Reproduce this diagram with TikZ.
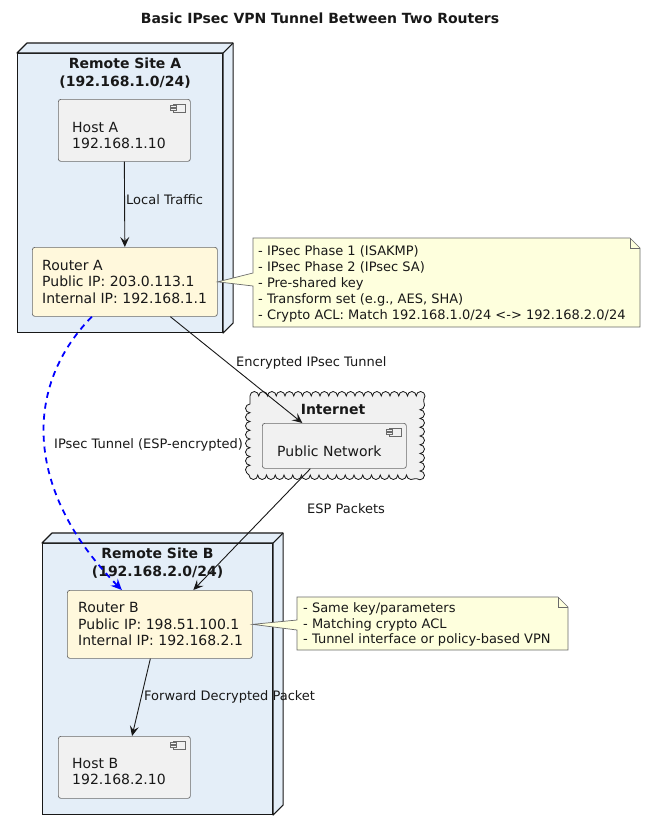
\documentclass[tikz,border=0pt]{standalone}
\usepackage{fontspec}
\setmainfont{DejaVu Sans}
\usetikzlibrary{arrows.meta,decorations.pathmorphing}

\definecolor{sitefill}{HTML}{E4EEF8}
\definecolor{routerfill}{HTML}{FFF8DC}
\definecolor{notefill}{HTML}{FEFFDD}
\definecolor{boxfill}{HTML}{F1F1F1}
\definecolor{boxline}{HTML}{6A6A6A}
\definecolor{ink}{HTML}{181818}

\tikzset{
  site/.style={draw=ink, fill=sitefill, line width=1.1pt, inner sep=0pt, anchor=north west},
  compbox/.style={draw=boxline, fill=boxfill, rounded corners=2.5pt, line width=0.7pt, inner sep=0pt, anchor=north west},
  routerbox/.style={compbox, fill=routerfill},
  body/.style={inner sep=0pt, anchor=west, align=left, font=\fontsize{14}{16.5}\selectfont, text=ink},
  heading/.style={inner sep=0pt, align=center, font=\fontsize{14}{18.5}\selectfont\bfseries, text=ink},
  edgelabel/.style={inner sep=0pt, anchor=west, font=\fontsize{13}{15}\selectfont, text=ink},
  notetext/.style={inner sep=0pt, anchor=west, align=left, font=\fontsize{13}{15.8}\selectfont, text=ink},
  notebody/.style={draw=boxline, fill=notefill, line width=0.7pt, line join=miter},
  flow/.style={draw=ink, line width=0.9pt, -{Stealth[length=10pt,width=9pt,inset=4pt]}},
  tunnel/.style={draw=blue, line width=1.8pt, dash pattern=on 6pt off 5pt,
                 -{Stealth[length=11pt,width=10pt,inset=4pt]}},
}

% small component glyph in the top right corner of a box
\newcommand\compglyph[1]{%
  \draw[boxline, fill=boxfill, line width=0.6pt]
    ([shift={(-17,5)}]#1.north east) rectangle ++(12,8);
  \draw[boxline, fill=boxfill, line width=0.6pt]
    ([shift={(-20,6.5)}]#1.north east) rectangle ++(6,2);
  \draw[boxline, fill=boxfill, line width=0.6pt]
    ([shift={(-20,9.5)}]#1.north east) rectangle ++(6,2);
}

\begin{document}
\begin{tikzpicture}[x=1pt,y=-1pt]
\useasboundingbox[fill=white] (0,0) rectangle (646,830);

% title
\node[inner sep=0pt, font=\fontsize{14}{16}\selectfont\bfseries, text=ink] (title) at (320,18)
  {Basic IPsec VPN Tunnel Between Two Routers};

% ---------- Remote Site A ----------
\node[site, minimum width=205pt, minimum height=279pt] (siteA) at (17,53) {};
\filldraw[sitefill, draw=ink, line width=1.1pt, line join=round]
  (siteA.north west) -- ++(10,-10) -- ([shift={(10,-10)}]siteA.north east)
  -- ([shift={(10,-10)}]siteA.south east) -- (siteA.south east) -- (siteA.north east) -- cycle;
\draw[ink, line width=1.1pt] (siteA.north east) -- ++(10,-10);
\node[heading] (siteAtitle) at (125,73) {Remote Site A\\(192.168.1.0/24)};

\node[compbox, minimum width=132pt, minimum height=62pt] (hostA) at (58,99) {};
\compglyph{hostA}
\node[body] (hostAtext) at (72,135.5) {Host A\\192.168.1.10};

\node[routerbox, minimum width=185pt, minimum height=69pt] (routerA) at (32,247) {};
\node[body] (routerAtext) at (42,281.5) {Router A\\Public IP: 203.0.113.1\\Internal IP: 192.168.1.1};

% ---------- Internet ----------
\filldraw[boxfill, draw=ink, line width=0.8pt,
  decorate, decoration={bumps, segment length=17.5pt, amplitude=4.5pt}]
  (250,396) -- (420,396) -- (420,475) -- (250,475) -- cycle;
\node[heading] (nettitle) at (333,409) {Internet};
\node[compbox, minimum width=144pt, minimum height=45pt] (pubnet) at (262,423) {};
\compglyph{pubnet}
\node[body] (pubnettext) at (277,451) {Public Network};

% ---------- Remote Site B ----------
\node[site, minimum width=230pt, minimum height=271pt] (siteB) at (42,543) {};
\filldraw[sitefill, draw=ink, line width=1.1pt, line join=round]
  (siteB.north west) -- ++(10,-10) -- ([shift={(10,-10)}]siteB.north east)
  -- ([shift={(10,-10)}]siteB.south east) -- (siteB.south east) -- (siteB.north east) -- cycle;
\draw[ink, line width=1.1pt] (siteB.north east) -- ++(10,-10);
\node[heading] (siteBtitle) at (157.5,563) {Remote Site B\\(192.168.2.0/24)};

\node[routerbox, minimum width=185pt, minimum height=68pt] (routerB) at (67,590) {};
\node[body] (routerBtext) at (78,624) {Router B\\Public IP: 198.51.100.1\\Internal IP: 192.168.2.1};

\node[compbox, minimum width=132pt, minimum height=62pt] (hostB) at (58,736) {};
\compglyph{hostB}
\node[body] (hostBtext) at (72,771.5) {Host B\\192.168.2.10};

% ---------- notes ----------
\filldraw[notebody] (253,238) -- (630,238) -- (640,248) -- (640,327) -- (253,327)
  -- (253,286) -- (routerA.east) -- (253,273) -- cycle;
\draw[boxline, line width=0.7pt] (630,238) -- (630,248) -- (640,248);
\node[notetext] (noteA) at (258,284) {- IPsec Phase 1 (ISAKMP)\\- IPsec Phase 2 (IPsec SA)\\- Pre-shared key\\- Transform set (e.g., AES, SHA)\\- Crypto ACL: Match 192.168.1.0/24 <-> 192.168.2.0/24};

\filldraw[notebody] (297,597) -- (558,597) -- (568,607) -- (568,650) -- (297,650)
  -- (297,630) -- (routerB.east) -- (297,620) -- cycle;
\draw[boxline, line width=0.7pt] (558,597) -- (558,607) -- (568,607);
\node[notetext] (noteB) at (303,624.5) {- Same key/parameters\\- Matching crypto ACL\\- Tunnel interface or policy-based VPN};

% ---------- connectors ----------
\draw[flow] (hostA.south) -- (routerA.north);
\node[edgelabel] (lblLocal) at (126,200) {Local Traffic};

\draw[flow] ([xshift=45.5pt]routerA.south) -- ([xshift=-32pt]pubnet.north);
\node[edgelabel] (lblEnc) at (236,363) {Encrypted IPsec Tunnel};

\draw[flow] ([xshift=-24pt]pubnet.south) -- ([xshift=33.5pt]routerB.north);
\node[edgelabel] (lblEsp) at (307,509) {ESP Packets};

\draw[flow] ([xshift=-9.5pt]routerB.south) -- ([xshift=7.7pt]hostB.north);
\node[edgelabel] (lblFwd) at (144,697) {Forward Decrypted Packet};

\draw[tunnel] ([xshift=-33pt]routerA.south) .. controls (20,390) and (28,495) .. ([xshift=-38pt]routerB.north);
\node[edgelabel] (lblTun) at (54,445) {IPsec Tunnel (ESP-encrypted)};

\end{tikzpicture}
\end{document}
